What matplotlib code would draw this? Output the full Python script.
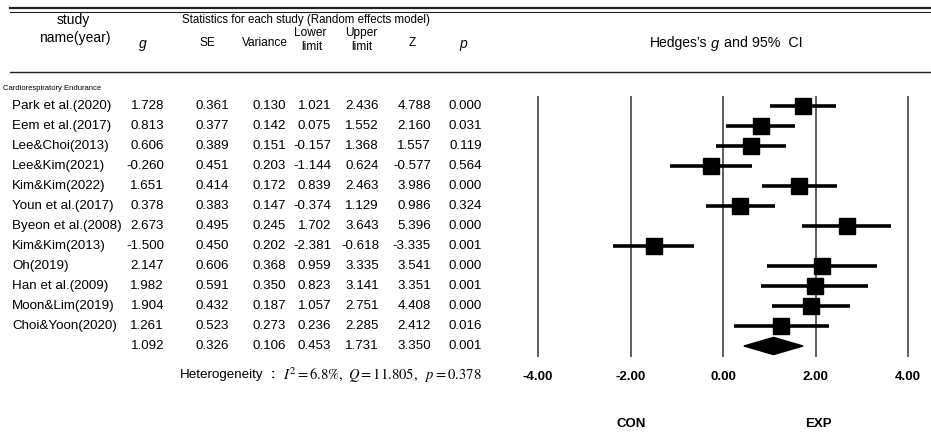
import numpy as np
import matplotlib.pyplot as plt

plt.rcParams['font.family'] = ['Liberation Sans', 'DejaVu Sans']
plt.rcParams['mathtext.fontset'] = 'stix'

# ---------------------------------
# data (read off the forest plot table)
studies = ['Park et al.(2020)', 'Eem et al.(2017)', 'Lee&Choi(2013)', 'Lee&Kim(2021)',
           'Kim&Kim(2022)', 'Youn et al.(2017)', 'Byeon et al.(2008)', 'Kim&Kim(2013)',
           'Oh(2019)', 'Han et al.(2009)', 'Moon&Lim(2019)', 'Choi&Yoon(2020)']
g = [1.728, 0.813, 0.606, -0.260, 1.651, 0.378, 2.673, -1.500, 2.147, 1.982, 1.904, 1.261]
se = [0.361, 0.377, 0.389, 0.451, 0.414, 0.383, 0.495, 0.450, 0.606, 0.591, 0.432, 0.523]
var = [0.130, 0.142, 0.151, 0.203, 0.172, 0.147, 0.245, 0.202, 0.368, 0.350, 0.187, 0.273]
lower = [1.021, 0.075, -0.157, -1.144, 0.839, -0.374, 1.702, -2.381, 0.959, 0.823, 1.057, 0.236]
upper = [2.436, 1.552, 1.368, 0.624, 2.463, 1.129, 3.643, -0.618, 3.335, 3.141, 2.751, 2.285]
z = [4.788, 2.160, 1.557, -0.577, 3.986, 0.986, 5.396, -3.335, 3.541, 3.351, 4.408, 2.412]
p = [0.000, 0.031, 0.119, 0.564, 0.000, 0.324, 0.000, 0.001, 0.000, 0.001, 0.000, 0.016]

# pooled (random effects)
pooled = dict(g=1.092, se=0.326, var=0.106, lower=0.453, upper=1.731, z=3.350, p=0.001)

ticks = [-4, -2, 0, 2, 4]

# ---------------------------------
# figure, pixel overlay for the table
W, H = 931, 446
fig = plt.figure(figsize=(W / 100, H / 100), dpi=100)
tab = fig.add_axes([0, 0, 1, 1])
tab.set_xlim(0, W)
tab.set_ylim(H, 0)
tab.axis('off')

# rules
tab.plot([10, W], [8, 8], color='#222222', lw=1.6)
tab.plot([10, W], [12, 12], color='#222222', lw=0.8)
tab.plot([10, W], [72, 72], color='#222222', lw=1.0)

fs = 9.6
hs = 8.6
tab.text(73, 20, 'study', ha='center', va='center', fontsize=10)
tab.text(75, 38, 'name(year)', ha='center', va='center', fontsize=10)
tab.text(306, 20, 'Statistics for each study (Random effects model)', ha='center',
         va='center', fontsize=8.3)
tab.text(143, 44, 'g', ha='center', va='center', fontsize=10, fontstyle='italic')
tab.text(207, 43, 'SE', ha='center', va='center', fontsize=hs)
tab.text(265, 43, 'Variance', ha='center', va='center', fontsize=hs)
tab.text(310, 33, 'Lower', ha='center', va='center', fontsize=hs)
tab.text(312, 47, 'limit', ha='center', va='center', fontsize=hs)
tab.text(361, 33, 'Upper', ha='center', va='center', fontsize=hs)
tab.text(362, 47, 'limit', ha='center', va='center', fontsize=hs)
tab.text(412, 43, 'Z', ha='center', va='center', fontsize=hs)
tab.text(463, 44, 'p', ha='center', va='center', fontsize=10, fontstyle='italic')

# Hedges's g and 95% CI (g in italic sans)
tab.text(650, 43, 'Hedges\u2019s', ha='left', va='center', fontsize=10)
tab.text(711, 44, 'g', ha='left', va='center', fontsize=10.5, fontstyle='italic')
tab.text(724, 43, 'and 95%  CI', ha='left', va='center', fontsize=10.3)

tab.text(3, 88, 'Cardiorespiratory Endurance', ha='left', va='center', fontsize=5.5)

col_right = [164, 229, 286, 331, 379, 431, 482]
row0, step = 106, 20
for i, name in enumerate(studies):
    y = row0 + step * i
    tab.text(12, y, name, ha='left', va='center', fontsize=fs)
    vals = [g[i], se[i], var[i], lower[i], upper[i], z[i], p[i]]
    for xr, v in zip(col_right, vals):
        tab.text(xr, y, f'{v:.3f}', ha='right', va='center', fontsize=fs)

y = row0 + step * len(studies)
for xr, key in zip(col_right, ['g', 'se', 'var', 'lower', 'upper', 'z', 'p']):
    tab.text(xr, y, f'{pooled[key]:.3f}', ha='right', va='center', fontsize=fs)

tab.text(180, 375, 'Heterogeneity', ha='left', va='center', fontsize=fs)
tab.text(273, 375, ':', ha='center', va='center', fontsize=fs, fontweight='bold')
tab.text(283, 375, r'$I^2 = 6.8\%,\ Q = 11.805,\ \ p = 0.378$', ha='left',
         va='center', fontsize=10.5)

tab.text(631, 424, 'CON', ha='center', va='center', fontsize=9.5, fontweight='bold')
tab.text(818, 424, 'EXP', ha='center', va='center', fontsize=9.5, fontweight='bold')

# ---------------------------------
# forest plot axes (data units)
x0, x1 = 500, 931
y_top, y_bot = 96, 357
ax = fig.add_axes([x0 / W, 1 - y_bot / H, (x1 - x0) / W, (y_bot - y_top) / H])
ax.patch.set_alpha(0)
scale = 46.25
ax.set_xlim((x0 - 723) / scale, (x1 - 723) / scale)
ax.set_ylim((y_bot - row0) / step, (y_top - row0) / step)
for s in ax.spines.values():
    s.set_visible(False)
ax.set_yticks([])

for t in ticks:
    ax.axvline(t, color='#333333', lw=1.1, zorder=1)

rows = np.arange(len(studies))
ax.hlines(rows, lower, upper, color='black', lw=2.6, zorder=2)
ax.plot(g, rows, 's', color='black', markersize=11.5, zorder=3)

yd = len(studies)
ax.fill([pooled['lower'], pooled['g'], pooled['upper'], pooled['g']],
        [yd, yd - 0.43, yd, yd + 0.43], color='black', zorder=3)

ax.set_xticks(ticks)
ax.set_xticklabels([f'{t:.2f}' for t in ticks], fontsize=9.5, fontweight='bold')
ax.tick_params(axis='x', length=0, pad=10)

fig.savefig('out.png', dpi=100)
